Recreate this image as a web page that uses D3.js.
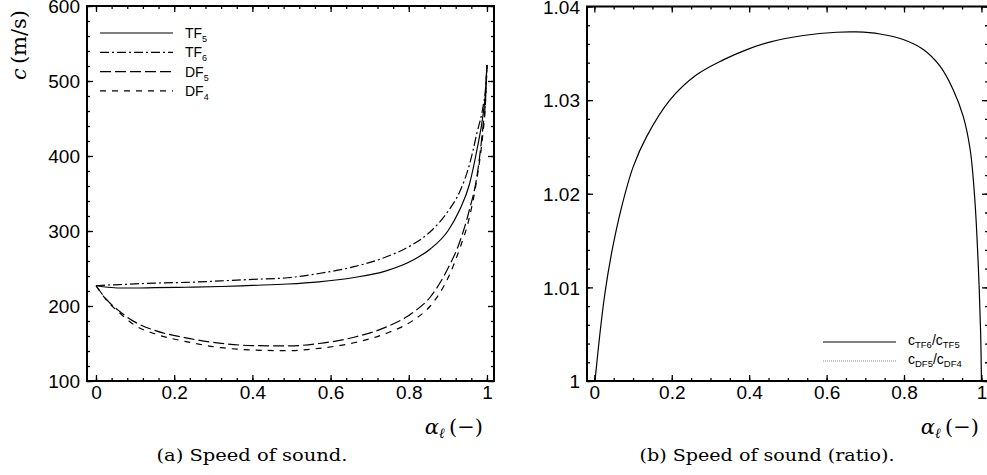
<!DOCTYPE html>
<html>
<head>
<meta charset="utf-8">
<script src="https://cdn.jsdelivr.net/npm/d3@7"></script>
<style>
  body { margin: 0; background: #fff; }
  svg { display: block; }
  .tick text { font-family: 'Liberation Sans', Arial, sans-serif; font-size: 19px; fill: #000; }
  .tick line { stroke: #000; stroke-width: 1.3; }
</style>
</head>
<body>
<div id="chart"></div>
<script>
// left panel: speed of sound c (m/s) vs liquid fraction
const alphaL = [0, 0.03, 0.06, 0.1, 0.15, 0.23, 0.32, 0.4, 0.49, 0.57, 0.66, 0.74, 0.81, 0.855, 0.9, 0.93, 0.955, 0.975, 0.99, 0.996, 1.0]
const cTF5 = [227, 225, 224, 224, 224.5, 225, 226, 227.5, 229.3, 232.2, 238, 246.5, 261, 276, 300, 328, 362, 410, 455, 483, 521]
const cTF6 = [227, 228, 228.5, 229.5, 230.5, 231.5, 233.5, 235.5, 237.7, 243.3, 252.4, 265, 282, 299, 326, 352, 388, 432, 466, 488, 521]
const cDF5 = [227, 207, 193, 178.5, 167.5, 157.5, 150.2, 147.2, 146.7, 150, 158.3, 171.5, 191, 212, 250, 285, 328, 375, 440, 472, 521]
const cDF4 = [227, 206, 191, 174, 163, 152.6, 144.4, 141.4, 140.4, 143.5, 151, 163, 180.5, 200, 237, 276, 318, 372, 432, 468, 521]

// right panel: ratio c_TF6 / c_TF5
const alphaR = [0.0016, 0.0145, 0.0274, 0.0447, 0.0705, 0.1005, 0.135, 0.195, 0.264, 0.333, 0.394, 0.453, 0.54, 0.626, 0.678, 0.738, 0.798, 0.85, 0.893, 0.927, 0.953, 0.971, 0.983, 0.992, 0.998, 1.0]
const ratioTF = [1.0, 1.0051, 1.0094, 1.0137, 1.0186, 1.0229, 1.0261, 1.03, 1.0327, 1.0343, 1.0354, 1.0362, 1.0369, 1.03725, 1.03728, 1.03706, 1.03647, 1.0354, 1.03362, 1.03112, 1.02826, 1.0247, 1.01936, 1.01222, 1.0051, 1.0]

const xTicks = [0, 0.2, 0.4, 0.6, 0.8, 1]
const yTicksL = [100, 200, 300, 400, 500, 600]
const yTicksR = [1, 1.01, 1.02, 1.03, 1.04]

const W = 987
const H = 475
const SERIF = "'DejaVu Serif', 'Liberation Serif', serif"
const SANS = "'Liberation Sans', Arial, sans-serif"

const svg = d3.select('#chart').append('svg')
  .attr('width', W)
  .attr('height', H)
svg.append('rect').attr('width', W).attr('height', H).attr('fill', '#fff')

function frame(g, x, y, majX, minX, majY, minY, fmtX, fmtY, id) {
  const [x0, x1] = x.range()
  const [y0, y1] = y.range()

  g.append('clipPath').attr('id', id)
    .append('rect')
    .attr('x', x0).attr('y', y1)
    .attr('width', x1 - x0).attr('height', y0 - y1)

  // minor ticks on all four sides
  const sides = [
    [d3.axisBottom(x).tickValues(minX), `translate(0,${y0})`],
    [d3.axisTop(x).tickValues(minX), `translate(0,${y1})`],
    [d3.axisLeft(y).tickValues(minY), `translate(${x0},0)`],
    [d3.axisRight(y).tickValues(minY), `translate(${x1},0)`],
  ]
  sides.forEach(([ax, tr]) => {
    const a = g.append('g').attr('transform', tr)
      .call(ax.tickSize(-3).tickFormat(''))
    a.select('.domain').remove()
  })

  // major ticks, labels only bottom/left
  const bottom = g.append('g').attr('transform', `translate(0,${y0})`)
    .call(d3.axisBottom(x).tickValues(majX).tickSize(-6).tickPadding(5).tickFormat(fmtX))
  const left = g.append('g').attr('transform', `translate(${x0},0)`)
    .call(d3.axisLeft(y).tickValues(majY).tickSize(-6).tickPadding(7).tickFormat(fmtY))
  const top = g.append('g').attr('transform', `translate(0,${y1})`)
    .call(d3.axisTop(x).tickValues(majX).tickSize(-6).tickFormat(''))
  const right = g.append('g').attr('transform', `translate(${x1},0)`)
    .call(d3.axisRight(y).tickValues(majY).tickSize(-6).tickFormat(''))
  ;[bottom, left, top, right].forEach(a => a.select('.domain').remove())
  left.selectAll('.tick text').attr('dy', '0.36em')

  g.append('rect')
    .attr('x', x0).attr('y', y1)
    .attr('width', x1 - x0).attr('height', y0 - y1)
    .attr('fill', 'none')
    .attr('stroke', '#000')
    .attr('stroke-width', 2)
}

function alphaLabel(g, xr, yb) {
  const t = g.append('text')
    .attr('x', xr).attr('y', yb)
    .attr('text-anchor', 'end')
    .style('font-family', SERIF)
    .style('font-size', '21px')
  t.append('tspan').style('font-style', 'italic').text('α')
  t.append('tspan').style('font-style', 'italic').style('font-size', '14px').attr('dy', 4).text('ℓ')
  t.append('tspan').attr('dy', -4).text('\u2009(−)')
}

function caption(g, cx, txt, len) {
  g.append('text')
    .attr('x', cx).attr('y', 461)
    .attr('text-anchor', 'middle')
    .attr('textLength', len)
    .attr('lengthAdjust', 'spacingAndGlyphs')
    .style('font-family', SERIF)
    .style('font-size', '16px')
    .text(txt)
}

const fmtX = d => (d === 0 || d === 1) ? d3.format('d')(d) : d3.format('.1f')(d)
const line = (x, y) => d3.line().x(d => x(d[0])).y(d => y(d[1])).curve(d3.curveMonotoneX)

// ---- left panel ----
const gL = svg.append('g')
const xL = d3.scaleLinear().domain([-0.023, 1.018]).range([87, 494])
const yL = d3.scaleLinear().domain([100, 600]).range([381, 6])

frame(gL, xL, yL, xTicks, d3.range(0, 1.0001, 0.04).map(v => +v.toFixed(2)),
  yTicksL, d3.range(100, 601, 20), fmtX, d3.format('d'), 'clipL')

const seriesL = [
  { name: 'TF', sub: '5', vals: cTF5, dash: null },
  { name: 'TF', sub: '6', vals: cTF6, dash: '9,3,2,3' },
  { name: 'DF', sub: '5', vals: cDF5, dash: '11,4' },
  { name: 'DF', sub: '4', vals: cDF4, dash: '6,6' },
]

gL.append('g').attr('clip-path', 'url(#clipL)')
  .selectAll('path')
  .data(seriesL)
  .join('path')
  .attr('d', s => line(xL, yL)(alphaL.map((a, i) => [a, s.vals[i]])))
  .attr('fill', 'none')
  .attr('stroke', '#000')
  .attr('stroke-width', 1.2)
  .attr('stroke-dasharray', s => s.dash)

// legend
seriesL.forEach((s, i) => {
  const ly = 33 + i * 19.3
  gL.append('line')
    .attr('x1', 100).attr('x2', 173)
    .attr('y1', ly).attr('y2', ly)
    .attr('stroke', '#000').attr('stroke-width', 1.2)
    .attr('stroke-dasharray', s.dash)
  const t = gL.append('text')
    .attr('x', 185).attr('y', ly + 5)
    .style('font-family', SANS)
    .style('font-size', '14px')
  t.append('tspan').text(s.name)
  t.append('tspan').attr('dy', 4).style('font-size', '9px').text(s.sub)
})

// y label
const yLab = gL.append('text')
  .attr('transform', 'translate(26,45) rotate(-90)')
  .attr('text-anchor', 'middle')
  .style('font-family', SERIF)
  .style('font-size', '21px')
yLab.append('tspan').style('font-style', 'italic').text('c')
yLab.append('tspan').text('\u2009(m/s)')

alphaLabel(gL, 483, 434)
caption(gL, 252, '(a) Speed of sound.', 191)

// ---- right panel ----
const gR = svg.append('g')
const xR = d3.scaleLinear().domain([-0.019, 1.017]).range([587, 988])
const yR = d3.scaleLinear().domain([1.0, 1.04]).range([381, 6.5])

frame(gR, xR, yR, xTicks, d3.range(0, 1.0001, 0.05).map(v => +v.toFixed(2)),
  yTicksR, d3.range(1.0, 1.0401, 0.002).map(v => +v.toFixed(3)),
  fmtX, d => d === 1 ? '1' : d3.format('.2f')(d), 'clipR')

gR.append('g').attr('clip-path', 'url(#clipR)')
  .append('path')
  .attr('d', d3.line().x(d => xR(d[0])).y(d => yR(d[1])).curve(d3.curveCatmullRom)(alphaR.map((a, i) => [a, ratioTF[i]])))
  .attr('fill', 'none')
  .attr('stroke', '#000')
  .attr('stroke-width', 1.2)

const legR = [
  { a: 'TF6', b: 'TF5', stroke: '#000', w: 1.2, dash: null },
  { a: 'DF5', b: 'DF4', stroke: '#888', w: 1.2, dash: '1,1' },
]
legR.forEach((s, i) => {
  const ly = 342 + i * 19
  gR.append('line')
    .attr('x1', 823).attr('x2', 896)
    .attr('y1', ly).attr('y2', ly)
    .attr('stroke', s.stroke).attr('stroke-width', s.w)
    .attr('stroke-dasharray', s.dash)
  const t = gR.append('text')
    .attr('x', 908).attr('y', ly + 3)
    .style('font-family', SANS)
    .style('font-size', '14px')
  t.append('tspan').text('c')
  t.append('tspan').attr('dy', 3).style('font-size', '9.5px').text(s.a)
  t.append('tspan').attr('dy', -3).text('/c')
  t.append('tspan').attr('dy', 3).style('font-size', '9.5px').text(s.b)
})

alphaLabel(gR, 979, 434)
caption(gR, 767, '(b) Speed of sound (ratio).', 255)
</script>
</body>
</html>
